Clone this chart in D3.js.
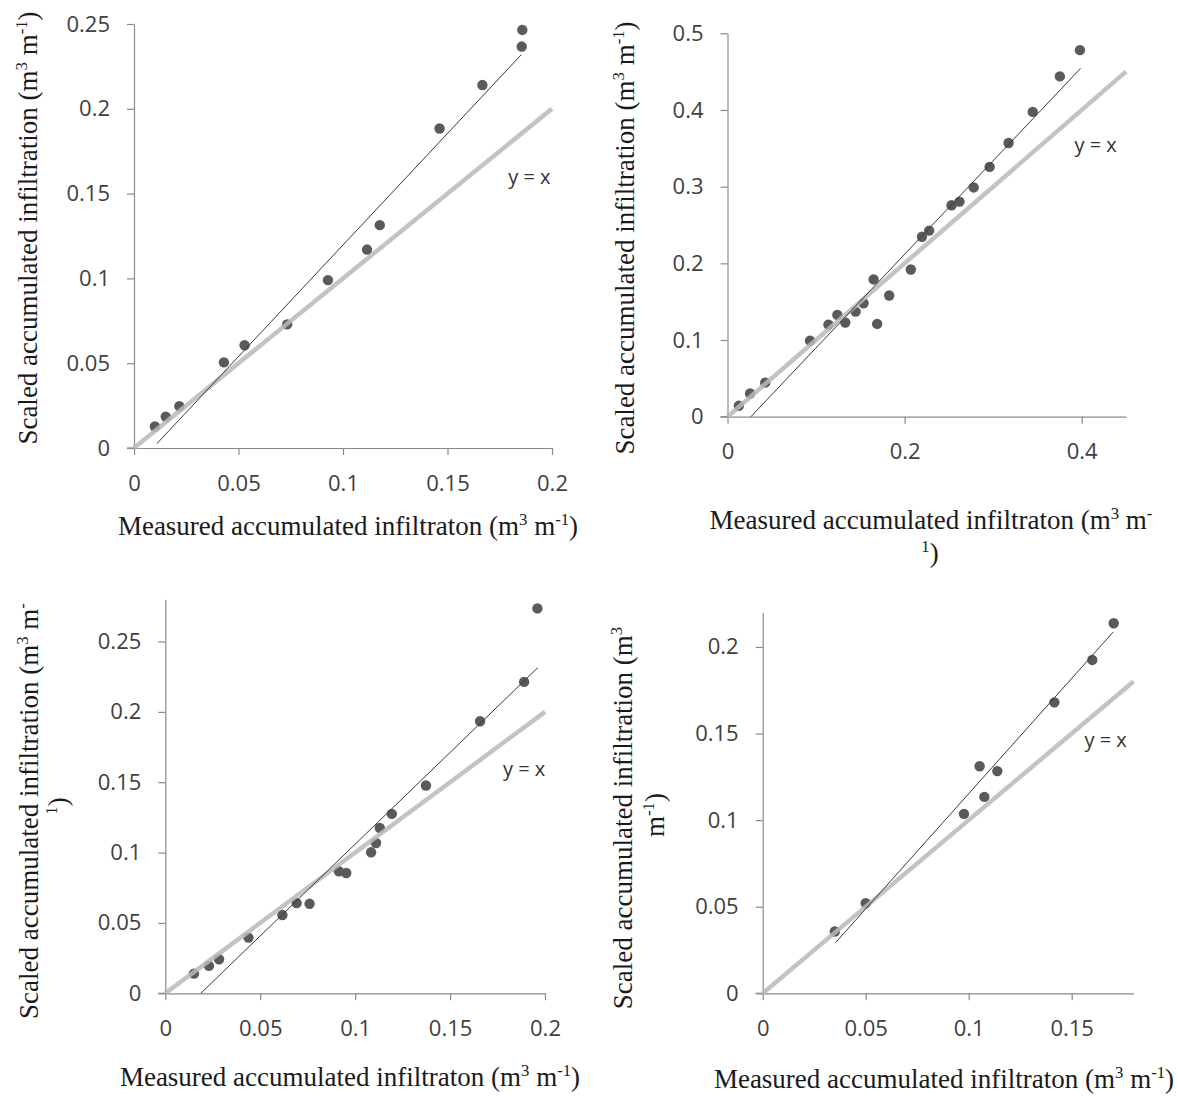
<!DOCTYPE html>
<html><head><meta charset="utf-8">
<script src="https://cdn.jsdelivr.net/npm/d3@7"></script>
<style>body{margin:0;background:#fff}</style>
</head><body>
<svg id="c" width="1177" height="1096"></svg>
<script>
// ---------- Panel A (top-left) ----------
const aMeasured = [0.010,0.0152,0.0217,0.043,0.0529,0.0733,0.0928,0.1115,0.1176,0.1462,0.1667,0.1855,0.1858];
const aScaled   = [0.0127,0.0185,0.0246,0.0505,0.0606,0.0729,0.099,0.117,0.1314,0.1884,0.214,0.2367,0.2465];
const aFitX = [0.0109,0.1853];
const aFitY = [0.0025,0.2319];
const aXTicks = [0,0.05,0.1,0.15,0.2];
const aXLabels = ["0","0.05","0.1","0.15","0.2"];
const aYTicks = [0,0.05,0.1,0.15,0.2,0.25];
const aYLabels = ["0","0.05","0.1","0.15","0.2","0.25"];
const aXMax = 0.2, aYMax = 0.25;

// ---------- Panel B (top-right) ----------
const bMeasured = [0.0128,0.0255,0.0426,0.0932,0.114,0.124,0.133,0.1447,0.1536,0.165,0.169,0.1826,0.207,0.2196,0.2277,0.253,0.262,0.278,0.296,0.3174,0.3447,0.3753,0.398];
const bScaled   = [0.0142,0.0302,0.0444,0.0992,0.12,0.1327,0.1228,0.137,0.148,0.179,0.121,0.158,0.192,0.2347,0.2427,0.2757,0.2805,0.299,0.3258,0.357,0.3975,0.4438,0.478];
const bFitX = [0.0264,0.3987];
const bFitY = [0,0.4542];
const bXTicks = [0,0.2,0.4];
const bXLabels = ["0","0.2","0.4"];
const bYTicks = [0,0.1,0.2,0.3,0.4,0.5];
const bYLabels = ["0","0.1","0.2","0.3","0.4","0.5"];
const bXMax = 0.45, bYMax = 0.5;

// ---------- Panel C (bottom-left) ----------
const cMeasured = [0.0151,0.023,0.0283,0.0438,0.0617,0.0692,0.076,0.0914,0.0953,0.1084,0.111,0.113,0.1193,0.1373,0.1658,0.189,0.196];
const cScaled   = [0.014,0.0195,0.0242,0.0396,0.0556,0.0641,0.0636,0.0867,0.0855,0.1002,0.1068,0.1175,0.1275,0.1477,0.1933,0.2213,0.2735];
const cFitX = [0.0187,0.1963];
const cFitY = [0,0.2315];
const cXTicks = [0,0.05,0.1,0.15,0.2];
const cXLabels = ["0","0.05","0.1","0.15","0.2"];
const cYTicks = [0,0.05,0.1,0.15,0.2,0.25];
const cYLabels = ["0","0.05","0.1","0.15","0.2","0.25"];
const cXMax = 0.2, cYMax = 0.28;

// ---------- Panel D (bottom-right) ----------
const dMeasured = [0.035,0.050,0.0977,0.1053,0.1076,0.1139,0.1416,0.160,0.1704];
const dScaled   = [0.0357,0.052,0.1036,0.1311,0.1134,0.1283,0.168,0.1925,0.2137];
const dFitX = [0.0354,0.1702];
const dFitY = [0.0293,0.2087];
const dXTicks = [0,0.05,0.1,0.15];
const dXLabels = ["0","0.05","0.1","0.15"];
const dYTicks = [0,0.05,0.1,0.15,0.2];
const dYLabels = ["0","0.05","0.1","0.15","0.2"];
const dXMax = 0.18, dYMax = 0.22;

const identityLabel = "y = x";

// ---------- drawing ----------
const svg = d3.select("#c");
const SANS = "'Open Sans', 'Noto Sans', sans-serif";
const SERIF = "'Liberation Serif', 'Times New Roman', serif";
const TITLE_FS = 27;

// segments: [text, isSup]
function richText(g, x, y, segs, rotate) {
  const t = g.append("text")
    .attr("font-family", SERIF).attr("font-size", TITLE_FS)
    .attr("fill", "#1a1a1a").attr("text-anchor", "middle");
  if (rotate) t.attr("transform", `translate(${x},${y}) rotate(-90)`);
  else t.attr("x", x).attr("y", y);
  let shifted = false;
  segs.forEach(([s, sup]) => {
    const ts = t.append("tspan").text(s);
    if (sup && !shifted) { ts.attr("dy", -10).attr("font-size", TITLE_FS * 0.62); shifted = true; }
    else if (sup) { ts.attr("font-size", TITLE_FS * 0.62); }
    else if (!sup && shifted) { ts.attr("dy", 10); shifted = false; }
  });
  return t;
}

function panel(cfg) {
  const g = svg.append("g");
  const x = d3.scaleLinear().domain([0, cfg.xMax]).range([cfg.left, cfg.right]);
  const y = d3.scaleLinear().domain([0, cfg.yMax]).range([cfg.bottom, cfg.top]);

  const xAxis = d3.axisBottom(x).tickValues(cfg.xTicks)
    .tickFormat((d, i) => cfg.xLabels[i]).tickSizeInner(7).tickSizeOuter(0).tickPadding(20);
  const yAxis = d3.axisLeft(y).tickValues(cfg.yTicks)
    .tickFormat((d, i) => cfg.yLabels[i]).tickSizeInner(7).tickSizeOuter(0).tickPadding(17);

  const gx = g.append("g").attr("transform", `translate(0,${cfg.bottom})`).call(xAxis);
  const gy = g.append("g").attr("transform", `translate(${cfg.left},0)`).call(yAxis);
  [gx, gy].forEach(a => {
    a.select(".domain").attr("stroke", "#8a8a8a").attr("stroke-width", 1.2);
    a.selectAll(".tick line").attr("stroke", "#8a8a8a").attr("stroke-width", 1.2);
    a.selectAll(".tick text").attr("font-family", SANS).attr("font-size", 22).attr("fill", "#404040");
  });
  // extend x-axis slightly left like the reference
  g.append("line").attr("x1", cfg.left - 7).attr("x2", cfg.left)
    .attr("y1", cfg.bottom).attr("y2", cfg.bottom).attr("stroke", "#8a8a8a").attr("stroke-width", 1.2);

  // points
  g.append("g").selectAll("circle").data(cfg.mx.map((v, i) => [v, cfg.my[i]])).join("circle")
    .attr("cx", d => x(d[0])).attr("cy", d => y(d[1])).attr("r", 5.2)
    .attr("fill", "#5a5a5a");

  // y = x line
  g.append("line")
    .attr("x1", x(0)).attr("y1", y(0)).attr("x2", x(cfg.xMax)).attr("y2", y(cfg.xMax))
    .attr("stroke", "#b8b8b8").attr("stroke-width", 4.5).attr("stroke-opacity", 0.85);

  // fitted line
  g.append("line")
    .attr("x1", x(cfg.fx[0])).attr("y1", y(cfg.fy[0])).attr("x2", x(cfg.fx[1])).attr("y2", y(cfg.fy[1]))
    .attr("stroke", "#3a3a3a").attr("stroke-width", 1);

  // y = x label
  g.append("text").attr("x", x(cfg.lab[0])).attr("y", y(cfg.lab[1]))
    .attr("text-anchor", "middle").attr("dominant-baseline", "central")
    .attr("font-family", SANS).attr("font-size", 20).attr("fill", "#333")
    .text(identityLabel);

  cfg.xTitle.forEach(l => richText(g, l.x, l.y, l.segs, false));
  cfg.yTitle.forEach(l => richText(g, l.x, l.y, l.segs, true));
}

const XT = [["Measured accumulated infiltraton (m", false], ["3", true], [" m", false], ["-1", true], [")", false]];
const YT = [["Scaled accumulated infiltration (m", false], ["3", true], [" m", false], ["-1", true], [")", false]];

panel({
  mx: aMeasured, my: aScaled, fx: aFitX, fy: aFitY,
  xTicks: aXTicks, xLabels: aXLabels, yTicks: aYTicks, yLabels: aYLabels,
  xMax: aXMax, yMax: aYMax,
  left: 134, right: 552, bottom: 448, top: 24,
  lab: [0.1892, 0.16],
  xTitle: [{ x: 348, y: 535, segs: XT }],
  yTitle: [{ x: 37, y: 228, segs: YT }]
});

panel({
  mx: bMeasured, my: bScaled, fx: bFitX, fy: bFitY,
  xTicks: bXTicks, xLabels: bXLabels, yTicks: bYTicks, yLabels: bYLabels,
  xMax: bXMax, yMax: bYMax,
  left: 727.5, right: 1126, bottom: 416.7, top: 33.3,
  lab: [0.4157, 0.355],
  xTitle: [
    { x: 931, y: 529, segs: [["Measured accumulated infiltraton (m", false], ["3", true], [" m", false], ["-", true]] },
    { x: 930, y: 562, segs: [["1", true], [")", false]] }
  ],
  yTitle: [{ x: 634, y: 238, segs: YT }]
});

panel({
  mx: cMeasured, my: cScaled, fx: cFitX, fy: cFitY,
  xTicks: cXTicks, xLabels: cXLabels, yTicks: cYTicks, yLabels: cYLabels,
  xMax: cXMax, yMax: cYMax,
  left: 165.3, right: 545, bottom: 993.3, top: 599.3,
  lab: [0.189, 0.16],
  xTitle: [{ x: 350, y: 1086, segs: XT }],
  yTitle: [
    { x: 38, y: 811, segs: [["Scaled accumulated infiltration (m", false], ["3", true], [" m", false], ["-", true]] },
    { x: 67, y: 806, segs: [["1", true], [")", false]] }
  ]
});

panel({
  mx: dMeasured, my: dScaled, fx: dFitX, fy: dFitY,
  xTicks: dXTicks, xLabels: dXLabels, yTicks: dYTicks, yLabels: dYLabels,
  xMax: dXMax, yMax: dYMax,
  left: 762.7, right: 1133.5, bottom: 993.3, top: 612.3,
  lab: [0.1665, 0.1466],
  xTitle: [{ x: 944, y: 1088, segs: XT }],
  yTitle: [
    { x: 632, y: 818, segs: [["Scaled accumulated infiltration (m", false], ["3", true]] },
    { x: 664, y: 815, segs: [["m", false], ["-1", true], [")", false]] }
  ]
});
</script>
</body></html>
